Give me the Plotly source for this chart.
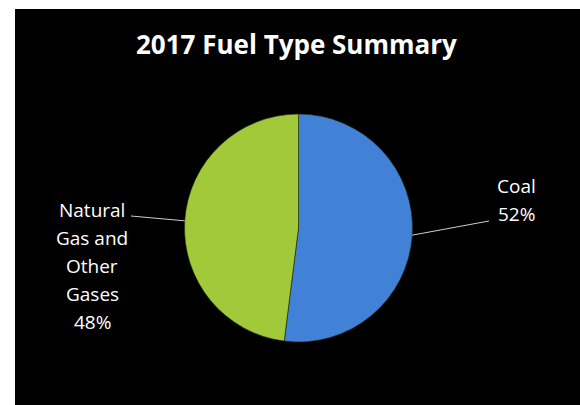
import math
import plotly.graph_objects as go

# Fuel mix shares for 2017
categories = ["Coal", "Natural Gas and Other Gases"]
values = [52, 48]
label_lines = [["Coal"], ["Natural", "Gas and", "Other", "Gases"]]
colors = ["#4282d6", "#a2c93a"]
title_text = "2017 Fuel Type Summary"

W, H = 580, 405
# pie geometry in pixels (from top-left)
cx, cy, r = 298.5, 228.0, 114.0

fig = go.Figure(go.Pie(
    labels=categories,
    values=values,
    sort=False,
    direction="clockwise",
    rotation=0,
    textinfo="none",
    hoverinfo="label+percent",
    marker=dict(colors=colors, line=dict(color="#1a2a10", width=0.6)),
    domain=dict(x=[(cx - r) / W, (cx + r) / W],
                y=[(H - cy - r) / H, (H - cy + r) / H]),
    showlegend=False,
))

def px(x):
    return x / W

def py(y):
    return (H - y) / H

shapes = [
    # white frame strips around the dark panel
    dict(type="rect", xref="paper", yref="paper", x0=0, x1=px(15), y0=0, y1=1,
         fillcolor="white", line=dict(width=0), layer="above"),
    dict(type="rect", xref="paper", yref="paper", x0=0, x1=1, y0=py(9), y1=1,
         fillcolor="white", line=dict(width=0), layer="above"),
]
annotations = [
    dict(text=f"<b>{title_text}</b>", x=px(296), y=py(44), xref="paper", yref="paper",
         xanchor="center", yanchor="middle", showarrow=False,
         font=dict(family="Open Sans", size=26, color="white")),
]

# label placement: leader-line end point and text column centre
label_end = [(489, 221), (131, 216)]
text_x = [516, 92]
first_line_mid = [186, 210]
pitch = 28

total = sum(values)
cum = 0.0
for i, v in enumerate(values):
    frac = v / total
    mid = 2 * math.pi * (cum + frac / 2)
    cum += frac
    ex = cx + r * math.sin(mid)
    ey = cy - r * math.cos(mid)
    lx, ly = label_end[i]
    shapes.append(dict(type="line", xref="paper", yref="paper",
                       x0=px(ex), y0=py(ey), x1=px(lx), y1=py(ly),
                       line=dict(color="#cfcfcf", width=1)))
    lines = label_lines[i] + [f"{round(frac * 100)}%"]
    for k, t in enumerate(lines):
        annotations.append(dict(
            text=t, x=px(text_x[i]), y=py(first_line_mid[i] + k * pitch),
            xref="paper", yref="paper", xanchor="center", yanchor="middle",
            showarrow=False, font=dict(family="Open Sans", size=19, color="white")))

fig.update_layout(
    width=W, height=H,
    margin=dict(l=0, r=0, t=0, b=0),
    paper_bgcolor="black",
    plot_bgcolor="black",
    shapes=shapes,
    annotations=annotations,
)

fig.write_html("out.html")
